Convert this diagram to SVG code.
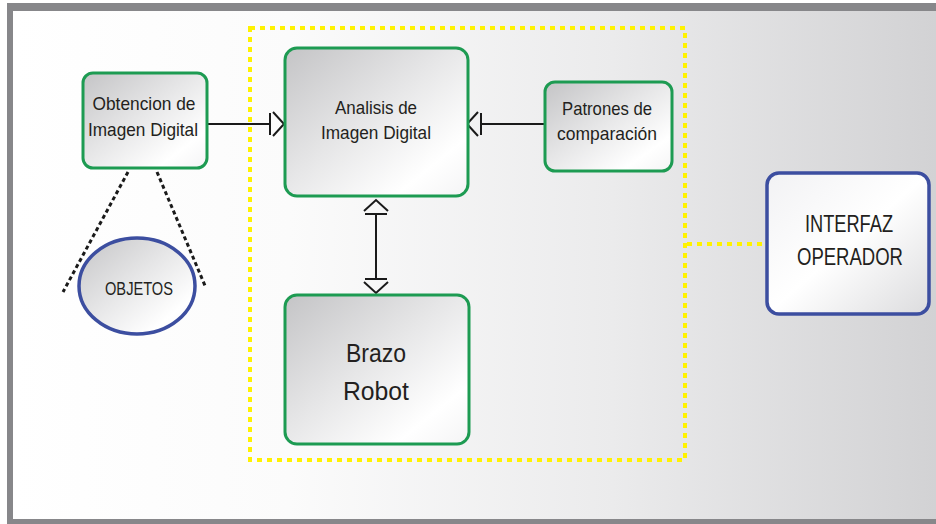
<svg xmlns="http://www.w3.org/2000/svg" width="936" height="524" viewBox="0 0 936 524">
  <defs>
    <linearGradient id="bg" x1="0" y1="0" x2="1" y2="0">
      <stop offset="0" stop-color="#ffffff"/>
      <stop offset="0.3" stop-color="#fbfbfb"/>
      <stop offset="0.65" stop-color="#ebebec"/>
      <stop offset="1" stop-color="#d2d2d4"/>
    </linearGradient>
    <linearGradient id="boxFill" x1="0" y1="0" x2="1" y2="1">
      <stop offset="0" stop-color="#c4c4c6"/>
      <stop offset="0.45" stop-color="#e6e6e7"/>
      <stop offset="0.8" stop-color="#ffffff"/>
      <stop offset="1" stop-color="#f4f4f5"/>
    </linearGradient>
    <linearGradient id="blueFill" x1="0" y1="0" x2="1" y2="1">
      <stop offset="0" stop-color="#f2f2f4"/>
      <stop offset="0.5" stop-color="#ffffff"/>
      <stop offset="1" stop-color="#dcdcde"/>
    </linearGradient>
    <!-- tee bar followed by an open chevron -->
    <marker id="teeOpen" viewBox="-3 -14 20 28" refX="0" refY="0" markerWidth="20" markerHeight="28" markerUnits="userSpaceOnUse" orient="auto-start-reverse">
      <path d="M0,-11 V11 M3,-12 L14,0 L3,12" fill="none" stroke="#1a1a1a" stroke-width="2"/>
    </marker>
  </defs>
  <style>
    .box { fill: url(#boxFill); stroke: #1d9b52; stroke-width: 3; }
    .blue { stroke: #3c4ea0; stroke-width: 3.5; }
    .lbl { font-family: "Liberation Sans", Arial, sans-serif; fill: #231f20; text-anchor: middle; }
    .conn { stroke: #1a1a1a; stroke-width: 2; fill: none; }
    .dots { stroke: #1a1a1a; stroke-width: 3; stroke-dasharray: 4 3; fill: none; }
    .yel { stroke: #fff200; stroke-width: 4; stroke-dasharray: 5 5; fill: none; }
  </style>

  <!-- page and frame -->
  <rect x="0" y="0" width="936" height="524" fill="#ffffff"/>
  <rect x="13" y="11" width="923" height="509" fill="url(#bg)"/>
  <rect x="7" y="3" width="929" height="8" fill="#87878a"/>
  <rect x="7" y="3" width="6" height="521" fill="#87878a"/>
  <rect x="7" y="519" width="929" height="5" fill="#87878a"/>

  <!-- yellow dashed grouping -->
  <g id="grupo">
    <rect class="yel" x="250" y="28" width="435" height="432"/>
    <line class="yel" x1="687" y1="244" x2="767" y2="244"/>
  </g>

  <g id="connectors">
    <line class="conn" x1="207" y1="124" x2="270" y2="124" marker-end="url(#teeOpen)"/>
    <line class="conn" x1="545" y1="124" x2="481" y2="124" marker-end="url(#teeOpen)"/>
    <line class="conn" x1="376" y1="214" x2="376" y2="279" marker-start="url(#teeOpen)" marker-end="url(#teeOpen)"/>
    <line class="dots" x1="128" y1="172" x2="63" y2="292"/>
    <line class="dots" x1="157" y1="172" x2="206" y2="288"/>
  </g>

  <g id="obtencion">
    <rect class="box" x="83" y="73" width="124" height="95" rx="10"/>
    <text class="lbl" x="144" y="110" font-size="18.5" textLength="103" lengthAdjust="spacingAndGlyphs">Obtencion de</text>
    <text class="lbl" x="143" y="136" font-size="18.5" textLength="110" lengthAdjust="spacingAndGlyphs">Imagen Digital</text>
  </g>

  <g id="analisis">
    <rect class="box" x="285" y="48" width="183" height="148" rx="12"/>
    <text class="lbl" x="376" y="114" font-size="17.5" textLength="82" lengthAdjust="spacingAndGlyphs">Analisis de</text>
    <text class="lbl" x="376" y="139" font-size="17.5" textLength="110" lengthAdjust="spacingAndGlyphs">Imagen Digital</text>
  </g>

  <g id="patrones">
    <rect class="box" x="545" y="82" width="127" height="89" rx="10"/>
    <text class="lbl" x="607" y="115" font-size="18.5" textLength="90" lengthAdjust="spacingAndGlyphs">Patrones de</text>
    <text class="lbl" x="607" y="140" font-size="18.5" textLength="100" lengthAdjust="spacingAndGlyphs">comparación</text>
  </g>

  <g id="brazo">
    <rect class="box" x="285" y="295" width="184" height="149" rx="12"/>
    <text class="lbl" x="376" y="362" font-size="26" textLength="60" lengthAdjust="spacingAndGlyphs">Brazo</text>
    <text class="lbl" x="376" y="400" font-size="26" textLength="66" lengthAdjust="spacingAndGlyphs">Robot</text>
  </g>

  <g id="interfaz">
    <rect class="blue" fill="url(#blueFill)" x="767" y="173" width="162" height="141" rx="12"/>
    <text class="lbl" x="849" y="232" font-size="23" textLength="88" lengthAdjust="spacingAndGlyphs">INTERFAZ</text>
    <text class="lbl" x="850" y="265" font-size="23" textLength="106" lengthAdjust="spacingAndGlyphs">OPERADOR</text>
  </g>

  <g id="objetos">
    <ellipse class="blue" fill="url(#boxFill)" cx="137" cy="286" rx="58" ry="48"/>
    <text class="lbl" x="139" y="295" font-size="18" textLength="68" lengthAdjust="spacingAndGlyphs">OBJETOS</text>
  </g>
</svg>
